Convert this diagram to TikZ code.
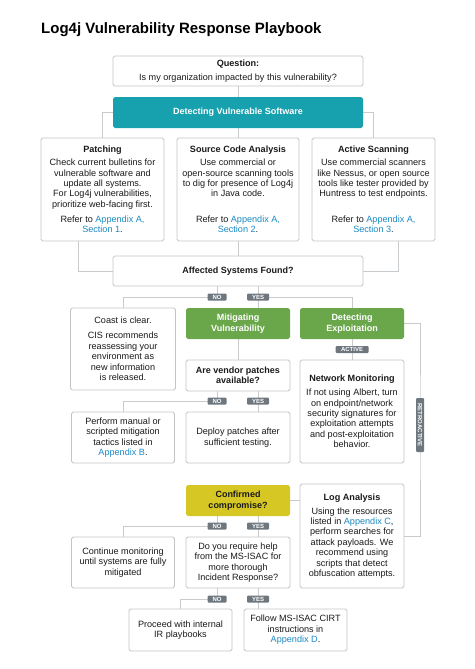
\documentclass[tikz,border=0pt]{standalone}
\usepackage{fontspec}
\setmainfont{Liberation Sans}
\usepackage{xcolor}
\usepackage{tikz}
\usetikzlibrary{positioning, calc, backgrounds}
\definecolor{tealc}{HTML}{17A1AE}
\definecolor{greenc}{HTML}{6AA74B}
\definecolor{yellowc}{HTML}{D7C724}
\definecolor{taggray}{HTML}{6E767E}
\definecolor{boxgray}{HTML}{C3C5C8}
\definecolor{wiregray}{HTML}{C8CBCE}
\definecolor{linkblue}{HTML}{1A8AC2}
\definecolor{textdark}{HTML}{1A1A1A}
\newcommand{\appx}[1]{\textcolor{linkblue}{#1}}
\tikzset{
    box/.style={
        rectangle,
        draw=boxgray,
        line width=0.8pt,
        rounded corners=1.8pt,
        fill=white,
        align=center,
        inner sep=0pt,
        text=textdark,
        font=\fontsize{9.1}{10.4}\selectfont
    },
    tealbox/.style={
        box,
        draw=none,
        fill=tealc,
        text=white,
        font=\fontsize{9}{10.6}\selectfont\bfseries
    },
    greenbox/.style={
        box,
        draw=none,
        fill=greenc,
        text=white,
        font=\fontsize{9}{10.8}\selectfont\bfseries
    },
    yellowbox/.style={
        box,
        draw=none,
        fill=yellowc,
        text=textdark,
        font=\fontsize{9}{10.8}\selectfont\bfseries
    },
    tag/.style={
        rectangle,
        fill=taggray,
        rounded corners=1pt,
        inner sep=0pt,
        minimum height=7pt,
        text=white,
        font=\fontsize{6}{6}\selectfont\bfseries
    },
    wire/.style={
        draw=wiregray,
        line width=0.9pt
    },
    titletext/.style={
        font=\fontsize{15}{18}\selectfont\bfseries,
        text=black,
        inner sep=0pt
    }
}

\begin{document}
\begin{tikzpicture}[x=1pt, y=-1pt]
\useasboundingbox (0,0) rectangle (474,669);

% Title
\node[titletext, anchor=base west] (title) at (41,33.5) {Log4j Vulnerability Response Playbook};

% Question and detection
\node[box, minimum width=250pt, minimum height=30pt] (question) at (238,71) {\textbf{Question:}\\[3.5pt]Is my organization impacted by this vulnerability?};
\node[tealbox, minimum width=250pt, minimum height=31pt] (detect) at (238,112.5) {Detecting Vulnerable Software};

% Three detection methods
\node[box, minimum width=123pt, minimum height=103pt] (patching) at (102.5,189.5) {\textbf{Patching}\\[2.5pt]Check current bulletins for\\vulnerable software and\\update all systems.\\For Log4j vulnerabilities,\\prioritize web-facing first.\\[4.5pt]Refer to \appx{Appendix A,}\\\appx{Section 1}.};
\node[box, minimum width=122pt, minimum height=103pt] (source) at (238,189.5) {\textbf{Source Code Analysis}\\[2.5pt]Use commercial or\\open-source scanning tools\\to dig for presence of Log4j\\in Java code.\\[14.9pt]Refer to \appx{Appendix A,}\\\appx{Section 2}.};
\node[box, minimum width=123pt, minimum height=103pt] (scanning) at (373.5,189.5) {\textbf{Active Scanning}\\[2.5pt]Use commercial scanners\\like Nessus, or open source\\tools like tester provided by\\Huntress to test endpoints.\\[14.9pt]Refer to \appx{Appendix A,}\\\appx{Section 3}.};

\node[box, minimum width=250pt, minimum height=30pt, font=\fontsize{9}{10.4}\selectfont\bfseries] (affected) at (238,271) {Affected Systems Found?};

% First answer
\node[box, minimum width=105pt, minimum height=82pt] (coast) at (123,349) {Coast is clear.\\[4.6pt]CIS recommends\\reassessing your\\environment as\\new information\\is released.};
\node[greenbox, minimum width=104pt, minimum height=31pt] (mitig) at (238,323.5) {Mitigating\\Vulnerability};
\node[greenbox, minimum width=104pt, minimum height=31pt] (detexp) at (352,323.5) {Detecting\\Exploitation};

% Mitigation branch
\node[box, minimum width=104pt, minimum height=31pt, font=\fontsize{9}{10.4}\selectfont\bfseries] (vendor) at (238,375.5) {Are vendor patches\\available?};
\node[box, minimum width=103pt, minimum height=51pt] (perform) at (123,437.5) {Perform manual or\\scripted mitigation\\tactics listed in\\\appx{Appendix B}.};
\node[box, minimum width=104pt, minimum height=51pt] (deploy) at (238,437.5) {Deploy patches after\\sufficient testing.};

% Exploitation branch
\node[box, minimum width=104pt, minimum height=103pt] (netmon) at (352,411.5) {\textbf{Network Monitoring}\\[3.6pt]If not using Albert, turn\\on endpoint/network\\security signatures for\\exploitation attempts\\and post-exploitation\\behavior.};
\node[box, minimum width=104pt, minimum height=104pt] (loganalysis) at (352,536) {\textbf{Log Analysis}\\[3.6pt]Using the resources\\listed in \appx{Appendix C},\\perform searches for\\attack payloads. We\\recommend using\\scripts that detect\\obfuscation attempts.};

% Compromise branch
\node[yellowbox, minimum width=104pt, minimum height=31pt] (confirmed) at (238,500.5) {Confirmed\\compromise?};
\node[box, minimum width=103pt, minimum height=51pt] (continue) at (123,562.5) {Continue monitoring\\until systems are fully\\mitigated};
\node[box, minimum width=104pt, minimum height=51pt] (require) at (238,562.5) {Do you require help\\from the MS-ISAC for\\more thorough\\Incident Response?};
\node[box, minimum width=103pt, minimum height=42pt] (proceed) at (180.5,630) {Proceed with internal\\IR playbooks};
\node[box, minimum width=103pt, minimum height=42pt] (follow) at (295.5,630) {Follow MS-ISAC CIRT\\instructions in\\\appx{Appendix D}.};

% Answer tags
\node[tag, minimum width=19pt] (noA) at (217,297) {NO};
\node[tag, minimum width=22pt] (yesA) at (258,297) {YES};
\node[tag, minimum width=33pt] (active) at (352,349.5) {ACTIVE};
\node[tag, minimum width=54pt, minimum height=8pt, rotate=-90] (retro) at (420,425) {RETROACTIVE};
\node[tag, minimum width=19pt] (noB) at (217,401) {NO};
\node[tag, minimum width=22pt] (yesB) at (258,401) {YES};
\node[tag, minimum width=19pt] (noC) at (217,526) {NO};
\node[tag, minimum width=22pt] (yesC) at (258,526) {YES};
\node[tag, minimum width=19pt] (noD) at (217,599) {NO};
\node[tag, minimum width=22pt] (yesD) at (258,599) {YES};

% Connectors
\begin{scope}[on background layer]
\draw[wire] (question) -- (detect);
\draw[wire] (detect.west) -| (patching.north);
\draw[wire] (detect.east) -| (scanning.north);
\draw[wire] (detect) -- (source);
\draw[wire] ([xshift=-24.5pt]patching.south) |- (affected.west);
\draw[wire] ([xshift=24.5pt]scanning.south) |- (affected.east);
\draw[wire] (source) -- (affected);

\draw[wire] (affected.south -| noA) -- (noA.center) -| (coast.north);
\draw[wire] (affected.south -| yesA) -- (mitig.north -| yesA);
\draw[wire] (yesA.center) -| (detexp.north);
\draw[wire] (mitig) -- (vendor);
\draw[wire] (detexp) -- (netmon);
\draw[wire] (detexp.east) -| (retro.center) |- (loganalysis.east);

\draw[wire] (vendor.south -| noB) -- (noB.center) -| (perform.north);
\draw[wire] (vendor.south -| yesB) -- (deploy.north -| yesB);

\draw[wire] (confirmed.east) -- (confirmed.east -| loganalysis.west);
\draw[wire] (confirmed.south -| noC) -- (noC.center) -| (continue.north);
\draw[wire] (confirmed.south -| yesC) -- (require.north -| yesC);

\draw[wire] (require.south -| noD) -- (noD.center) -| (proceed.north);
\draw[wire] (require.south -| yesD) -- (follow.north -| yesD);
\end{scope}

\end{tikzpicture}
\end{document}
